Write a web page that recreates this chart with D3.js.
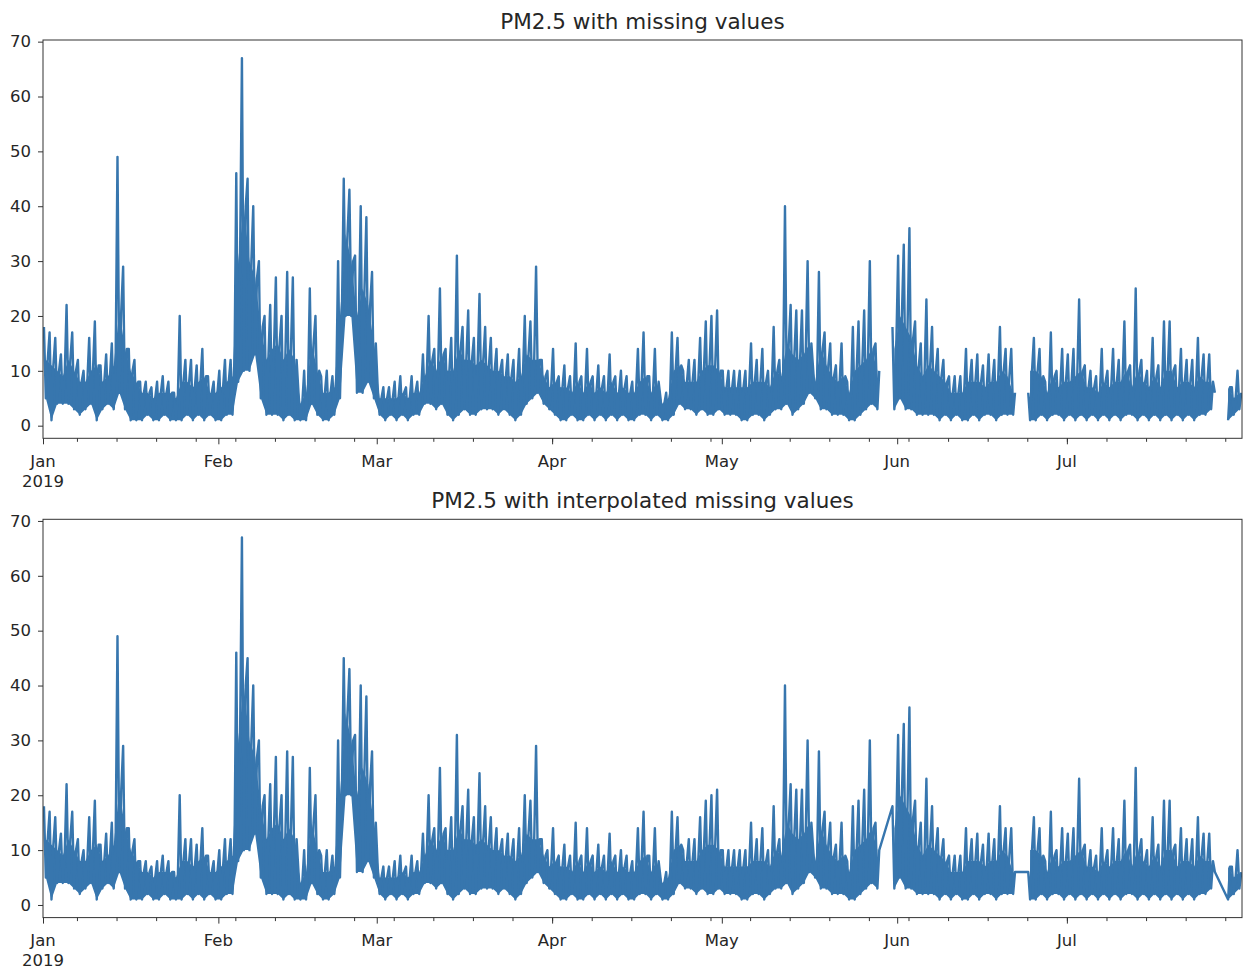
<!DOCTYPE html>
<html>
<head>
<meta charset="utf-8">
<script src="https://cdnjs.cloudflare.com/ajax/libs/d3/7.8.5/d3.min.js"></script>
<style>
  body { margin: 0; background: #fff; }
  text { font-family: "DejaVu Sans", sans-serif; fill: #262626; }
</style>
</head>
<body>
<svg id="chart" width="1243" height="970"></svg>
<script>
// PM2.5 readings 2019, three per day: peak (04:00), low (12:00), usual level (20:00); null = missing
var jan = [18,5,12, 17,1,11, 16,4,10, 13,4,9, 22,4,12, 17,3,10, 12,2,8, 10,3,8, 16,4,10, 19,1,11,
           11,3,8, 13,4,9, 15,3,11, 49,6,21, 29,3,14, 14,1,10, 12,1,8, 8,1,6, 8,2,6, 7,1,5,
           8,1,6, 9,2,6, 8,1,6, 6,1,5, 20,1,8, 12,2,8, 12,1,7, 11,2,8, 14,1,9, 9,2,6, 8,1,6];
var feb = [10,1,7, 12,2,8, 12,2,9, 46,8,30, 67,10,40, 45,10,30, 40,13,27, 30,5,18, 20,2,12, 22,2,14,
           27,2,15, 20,1,12, 28,2,14, 27,1,12, 6,1,4, 10,1,6, 25,4,15, 20,2,10, 9,1,6, 10,1,6,
           9,2,7, 30,5,20, 45,20,35, 43,20,30, 31,6,20, 40,6,25, 38,8,22, 28,5,15];
var mar = [7,2,5, 7,1,5, 7,2,5, 8,1,5, 9,2,6, 7,1,5, 9,2,6, 8,2,6, 13,4,9, 20,4,12,
           14,3,10, 25,4,13, 14,2,10, 16,1,10, 31,2,14, 18,3,12, 21,2,12, 16,2,11, 24,3,12, 18,3,11,
           16,3,10, 14,2,10, 12,3,9, 13,2,9, 12,1,8, 14,2,9, 20,4,13, 19,5,12, 29,6,12, 12,4,9, 10,3,7];
var apr = [14,2,8, 9,1,7, 11,1,7, 9,2,6, 15,1,8, 9,1,6, 14,2,8, 9,1,6, 11,2,7, 9,1,6,
           13,2,8, 9,1,6, 10,2,7, 9,1,6, 8,1,6, 14,2,8, 17,2,9, 9,1,6, 14,2,8, 5,1,4,
           6,1,5, 17,2,10, 16,4,11, 10,3,8, 12,3,8, 12,2,8, 16,3,10, 19,2,11, 20,2,11, 21,3,10];
var may = [10,2,7, 10,2,7, 10,2,7, 10,1,7, 10,1,7, 15,2,8, 12,2,8, 14,1,8, 10,2,7, 18,3,10,
           12,3,9, 40,4,15, 22,2,13, 21,3,12, 21,4,13, 30,6,15, 10,5,8, 28,3,14, 17,3,11, 15,2,9,
           11,2,8, 15,2,9, 8,1,6, 18,1,10, 19,2,11, 21,3,12, 30,4,14, 15,3,10,
           null,null,null, null,null,null, 18,3,14];
var jun = [31,5,20, 33,3,18, 36,3,16, 19,2,11, 15,2,9, 23,2,11, 18,2,10, 14,1,9, 12,2,8, 9,1,6,
           9,2,6, 9,1,6, 14,1,8, 12,2,8, 13,1,8, 11,2,7, 13,2,8, 12,1,8, 18,2,10, 14,2,9,
           14,2,6, null,null,null, null,null,null, 6,1,10, 16,1,10, 14,2,9, 8,1,6, 17,2,9, 10,2,7, 14,1,8];
var jul = [13,2,8, 14,1,9, 23,2,10, 11,1,7, 10,2,7, 9,1,6, 14,2,8, 10,1,7, 14,2,8, 12,1,8,
           19,2,10, 11,2,7, 25,1,10, 12,2,8, 10,1,7, 16,2,9, 11,1,7, 19,2,10, 19,1,10, 11,2,7,
           14,1,8, 12,2,8, 12,1,7, 16,2,9, 13,2,8, 13,3,8, 6,null,null, null,null,null, null,1,7,
           7,2,5, 10,3,6];

var titles = ["PM2.5 with missing values", "PM2.5 with interpolated missing values"];
var yTicks = [0, 10, 20, 30, 40, 50, 60, 70];
var lineColor = "#3776ae";

var t0 = Date.UTC(2019, 0, 1);
var values = [].concat(jan, feb, mar, apr, may, jun, jul);
var series = values.map(function(v, i) {
  return { t: new Date(t0 + (i * 8 + 4) * 3600e3), v: v };
});

// daily band: from the low to the usual level
var days = [];
for (var i = 0; i < values.length; i += 3) {
  days.push({ t: new Date(t0 + (i * 8 + 12) * 3600e3), lo: values[i + 1], mid: values[i + 2] });
}

var svg = d3.select("#chart");

var start = new Date(t0),
    end = new Date(Date.UTC(2019, 6, 31, 23));

var x = d3.scaleUtc().domain([start, end]).range([43, 1242]);

var panels = [
  { top: 40, bottom: 438.3, interp: false },
  { top: 519.3, bottom: 917.6, interp: true }
];

panels.forEach(function(p, k) {
  var y = d3.scaleLinear().domain([-2.3, 70.3]).range([p.bottom, p.top]);
  var g = svg.append("g");

  g.append("clipPath").attr("id", "clip" + k)
    .append("rect")
    .attr("x", 43).attr("y", p.top)
    .attr("width", 1242 - 43).attr("height", p.bottom - p.top);

  var band = d3.area()
    .defined(function(d) { return d.lo != null && d.mid != null; })
    .x(function(d) { return x(d.t); })
    .y0(function(d) { return y(d.lo); })
    .y1(function(d) { return y(d.mid); });

  g.append("path")
    .datum(days)
    .attr("clip-path", "url(#clip" + k + ")")
    .attr("d", band)
    .attr("fill", lineColor);

  var line = d3.line()
    .defined(function(d) { return d.v != null; })
    .x(function(d) { return x(d.t); })
    .y(function(d) { return y(d.v); });

  // second panel: straight segments across the gaps
  var data = p.interp ? series.filter(function(d) { return d.v != null; }) : series;

  g.append("path")
    .datum(data)
    .attr("clip-path", "url(#clip" + k + ")")
    .attr("d", line)
    .attr("fill", "none")
    .attr("stroke", lineColor)
    .attr("stroke-width", 2.4)
    .attr("stroke-linejoin", "round");

  // frame
  g.append("rect")
    .attr("x", 43).attr("y", p.top)
    .attr("width", 1242 - 43).attr("height", p.bottom - p.top)
    .attr("fill", "none").attr("stroke", "#333").attr("stroke-width", 1);

  // y axis
  var yAxis = d3.axisLeft(y).tickValues(yTicks).tickSize(5).tickPadding(7);
  var ya = g.append("g").attr("transform", "translate(43,0)").call(yAxis);
  ya.select(".domain").remove();
  ya.selectAll("line").attr("stroke", "#333");
  ya.selectAll("text").attr("font-size", 16.5).attr("font-family", null).attr("fill", "#262626");

  // x axis, weekly minor ticks
  var minor = d3.axisBottom(x).tickValues(d3.utcMonday.range(start, end)).tickSize(3.5).tickFormat("");
  var xm = g.append("g").attr("transform", "translate(0," + p.bottom + ")").call(minor);
  xm.select(".domain").remove();
  xm.selectAll("line").attr("stroke", "#333");

  var months = d3.utcMonth.range(start, end);
  var major = d3.axisBottom(x).tickValues(months).tickSize(6).tickFormat("");
  var xa = g.append("g").attr("transform", "translate(0," + p.bottom + ")").call(major);
  xa.select(".domain").remove();
  xa.selectAll("line").attr("stroke", "#333");

  g.selectAll(".mlab").data(months).enter().append("text")
    .attr("x", function(d) { return x(d); })
    .attr("y", p.bottom + 28.4)
    .attr("text-anchor", "middle")
    .attr("font-size", 16.5)
    .text(d3.utcFormat("%b"));

  g.append("text")
    .attr("x", x(start)).attr("y", p.bottom + 48.4)
    .attr("text-anchor", "middle").attr("font-size", 16.5)
    .text("2019");

  g.append("text")
    .attr("x", (43 + 1242) / 2).attr("y", p.top - 11.5)
    .attr("text-anchor", "middle").attr("font-size", 21.5)
    .text(titles[k]);
});
</script>
</body>
</html>
